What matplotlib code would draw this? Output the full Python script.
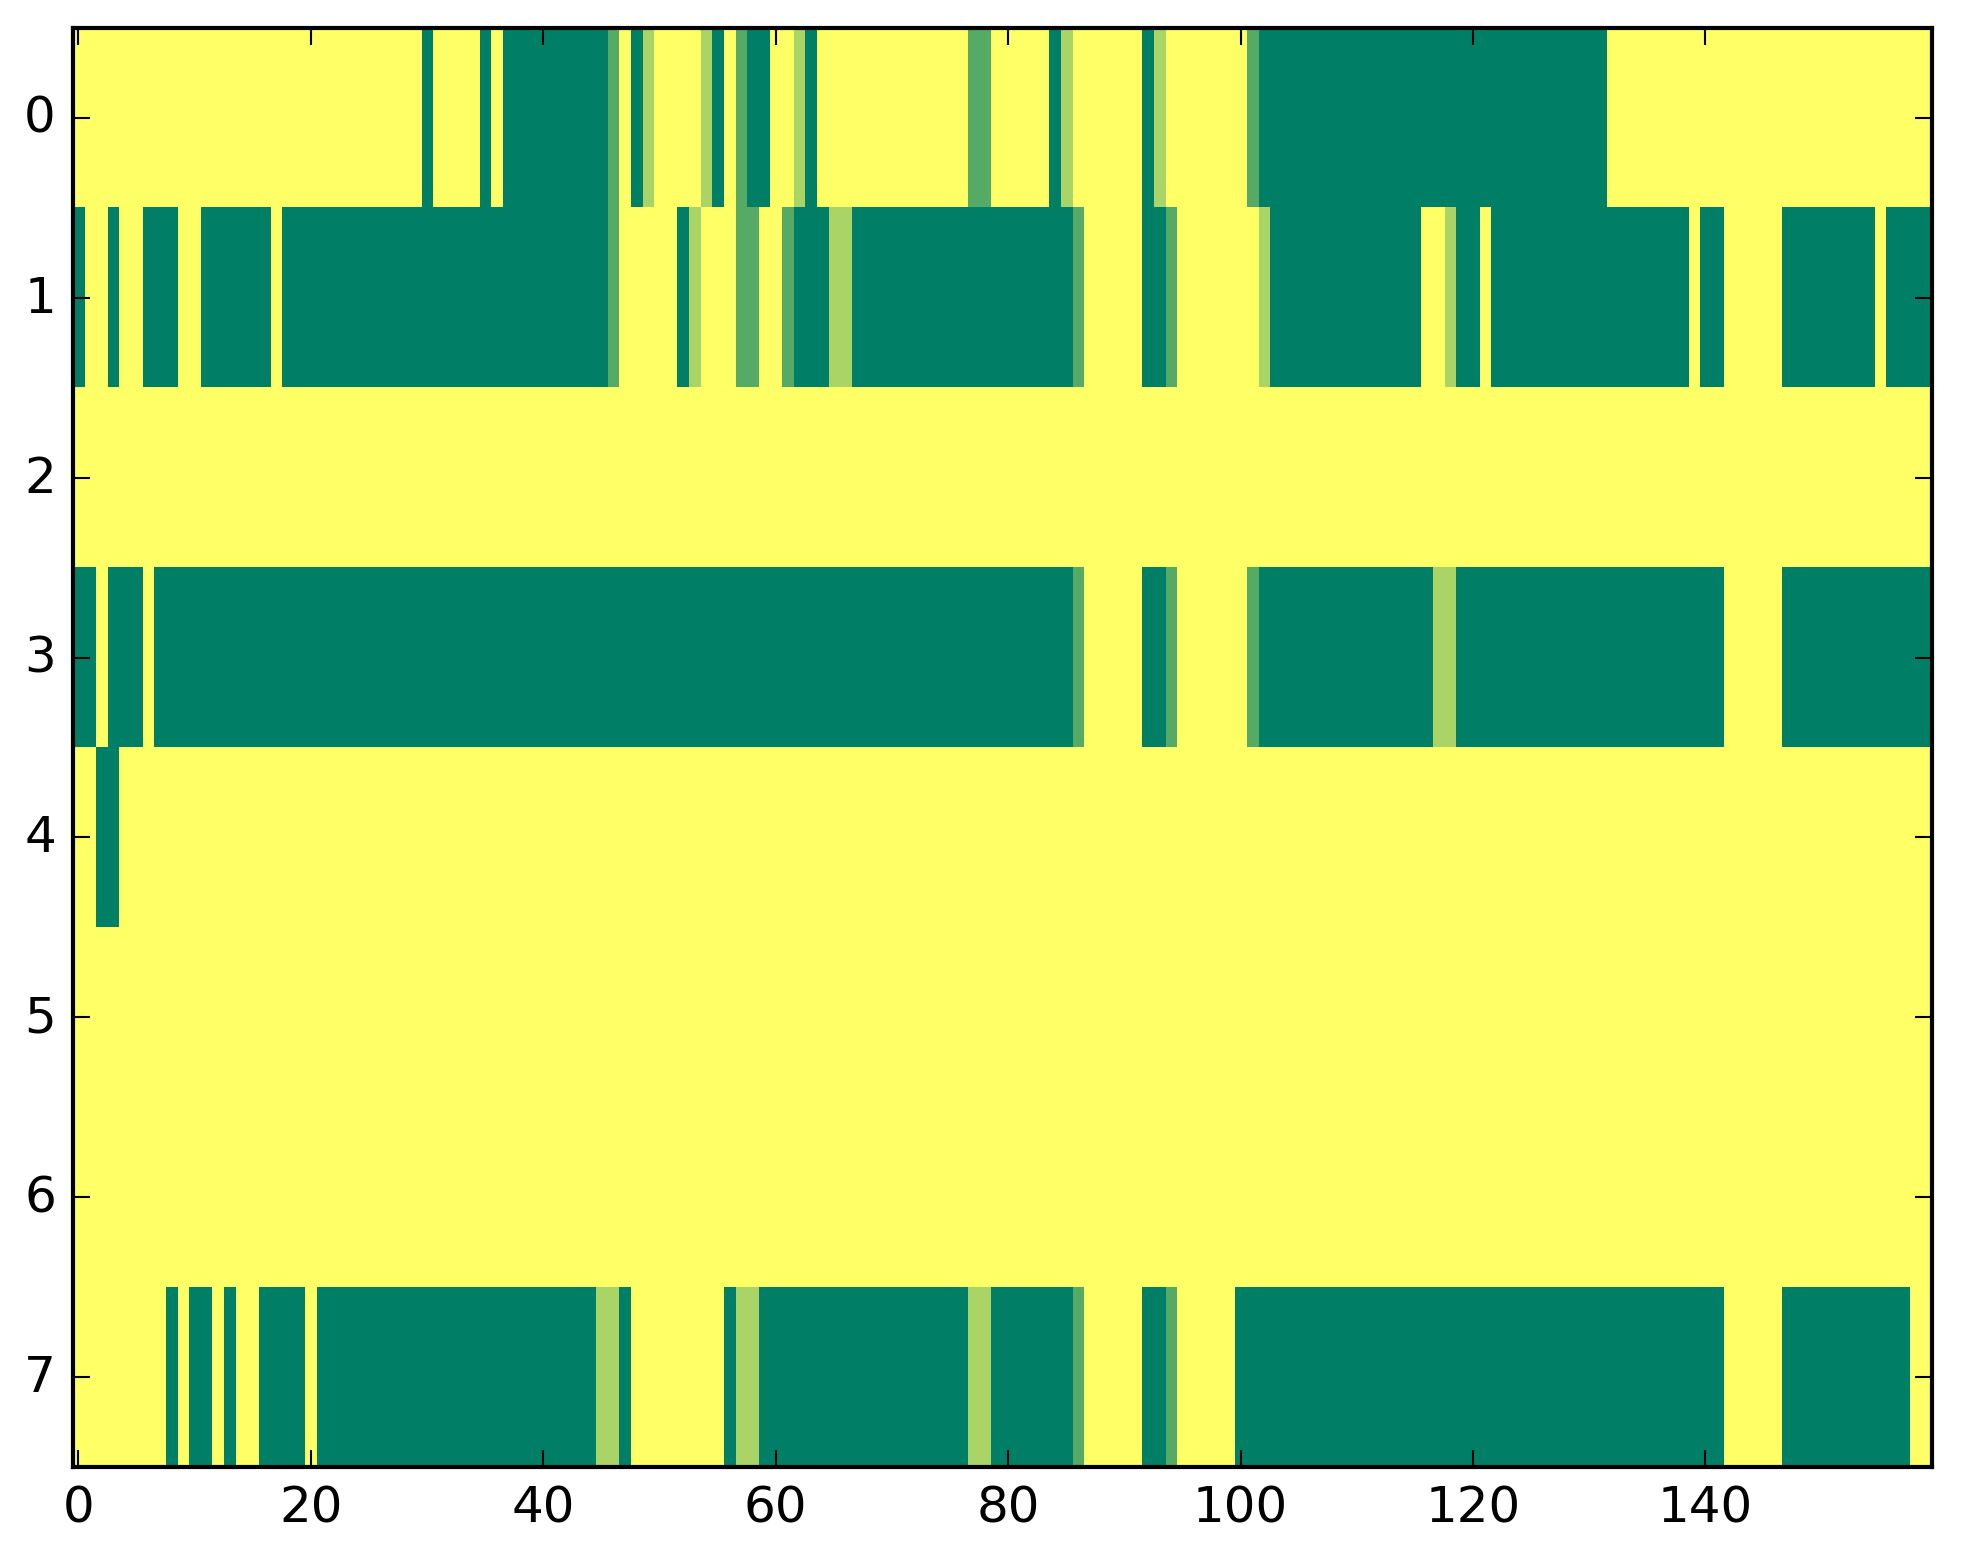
import numpy as np
import matplotlib
matplotlib.use('Agg')
import matplotlib.pyplot as plt

# each row is stored as runs of (value, length); 0 = yellow ... 3 = dark green
row0 = [(0, 30), (3, 1), (0, 4), (3, 1), (0, 1), (3, 9), (2, 1), (0, 1), (3, 1), (1, 1),
        (0, 4), (1, 1), (3, 1), (0, 1), (2, 1), (3, 2), (0, 2), (1, 1), (3, 1), (0, 13),
        (2, 2), (0, 5), (3, 1), (1, 1), (0, 6), (3, 1), (1, 1), (0, 7), (2, 1), (3, 30), (0, 28)]
row1 = [(3, 1), (0, 2), (3, 1), (0, 2), (3, 3), (0, 2), (3, 6), (0, 1), (3, 28), (2, 1),
        (0, 5), (3, 1), (1, 1), (0, 3), (2, 2), (0, 2), (2, 1), (3, 3), (1, 2), (3, 19),
        (2, 1), (0, 5), (3, 2), (2, 1), (0, 7), (1, 1), (3, 13), (0, 2), (1, 1), (3, 2),
        (0, 1), (3, 17), (0, 1), (3, 2), (0, 5), (3, 8), (0, 1), (3, 4)]
row2 = [(0, 160)]
row3 = [(3, 2), (0, 1), (3, 3), (0, 1), (3, 79), (2, 1), (0, 5), (3, 2), (2, 1), (0, 6),
        (2, 1), (3, 15), (1, 2), (3, 23), (0, 5), (3, 13)]
row4 = [(0, 2), (3, 2), (0, 156)]
row5 = [(0, 160)]
row6 = [(0, 160)]
row7 = [(0, 8), (3, 1), (0, 1), (3, 2), (0, 1), (3, 1), (0, 2), (3, 4), (0, 1), (3, 24),
        (1, 2), (3, 1), (0, 8), (3, 1), (1, 2), (3, 18), (1, 2), (3, 7), (2, 1), (0, 5),
        (3, 2), (2, 1), (0, 5), (3, 42), (0, 5), (3, 11), (0, 2)]

rows = [row0, row1, row2, row3, row4, row5, row6, row7]


def expand(runs):
    out = []
    for val, n in runs:
        out += [val] * n
    return out


grid = np.array([expand(r) for r in rows], dtype=float)

plt.style.use('classic')
fig = plt.figure(figsize=(1963 / 300, 1564 / 300), dpi=300, facecolor='white')
ax = fig.add_axes([0.037, 0.0614, 0.9472, 0.9201])
ax.imshow(grid, cmap='summer_r', vmin=0, vmax=3, aspect='auto', interpolation='nearest')
ax.set_yticks(range(8))
ax.set_xticks(range(0, 160, 20))
ax.set_xlim(-0.5, 159.5)
ax.set_ylim(7.5, -0.5)

fig.savefig('out.png', dpi=300, facecolor='white')
